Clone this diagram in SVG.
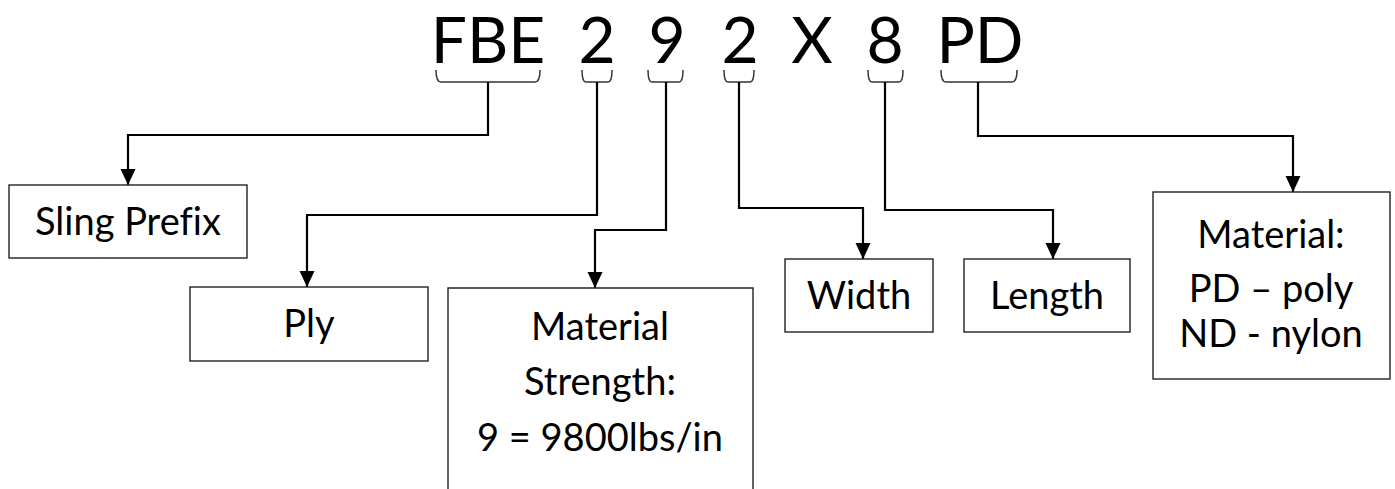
<svg xmlns="http://www.w3.org/2000/svg" width="1395" height="489" viewBox="0 0 1395 489">
<style>
text{font-family:Lato,"Open Sans","Noto Sans",sans-serif;fill:#000;text-anchor:middle;font-variant-ligatures:none;font-feature-settings:"liga" 0}
.title{font-size:64px}
.lbl{font-size:38px}
.box{fill:#fff;stroke:#222;stroke-width:1.4}
.brk{fill:none;stroke:#333;stroke-width:1.5}
.con{fill:none;stroke:#000;stroke-width:2.2}
</style>
<defs>
<marker id="arr" markerUnits="userSpaceOnUse" markerWidth="16" markerHeight="16" viewBox="0 0 16 16" refX="16" refY="8" orient="auto">
<path d="M0,0.5 L16,8 L0,15.5 Z" fill="#000"/>
</marker>
</defs>
<rect width="1395" height="489" fill="#fff"/>
<g id="title">
<text class="title" x="488" y="63">FBE</text>
<text class="title" x="597" y="63">2</text>
<text class="title" x="667" y="63">9</text>
<text class="title" x="740" y="63">2</text>
<text class="title" x="812" y="63">X</text>
<text class="title" x="885" y="63">8</text>
<text class="title" x="980" y="63">PD</text>
</g>
<g id="brackets">
<path class="brk" d="M436,70 Q436,82 441,82 H535 Q540,82 540,70"/>
<path class="brk" d="M582,70 Q582,82 586,82 H608 Q612,82 612,70"/>
<path class="brk" d="M648,70 Q648,82 652,82 H679 Q683,82 683,70"/>
<path class="brk" d="M724,70 Q724,82 728,82 H750 Q754,82 754,70"/>
<path class="brk" d="M868,70 Q868,82 872,82 H899 Q903,82 903,70"/>
<path class="brk" d="M941,70 Q941,82 946,82 H1012 Q1017,82 1017,70"/>
</g>
<g id="connectors">
<path class="con" d="M488,82 V135 H128 V185" marker-end="url(#arr)"/>
<path class="con" d="M597,82 V215 H307 V287" marker-end="url(#arr)"/>
<path class="con" d="M666,82 V230 H595 V288" marker-end="url(#arr)"/>
<path class="con" d="M739,82 V208 H863 V259" marker-end="url(#arr)"/>
<path class="con" d="M885,82 V210 H1053 V259" marker-end="url(#arr)"/>
<path class="con" d="M978,82 V136 H1293 V192" marker-end="url(#arr)"/>
</g>
<g id="sling-prefix">
<rect class="box" x="9" y="185" width="238" height="73"/>
<text class="lbl" x="128" y="235">Sling Prefix</text>
</g>
<g id="ply">
<rect class="box" x="190" y="287" width="238" height="74"/>
<text class="lbl" x="309" y="337">Ply</text>
</g>
<g id="material-strength">
<path class="box" d="M448,495 V288 H753 V495"/>
<text class="lbl" x="600" y="340">Material</text>
<text class="lbl" x="600" y="395">Strength:</text>
<text class="lbl" x="600" y="451">9 = 9800lbs/in</text>
</g>
<g id="width">
<rect class="box" x="785" y="259" width="148" height="73"/>
<text class="lbl" x="859" y="309">Width</text>
</g>
<g id="length">
<rect class="box" x="964" y="259" width="166" height="73"/>
<text class="lbl" x="1047" y="309">Length</text>
</g>
<g id="material">
<rect class="box" x="1153" y="192" width="237" height="187"/>
<text class="lbl" x="1271" y="248">Material:</text>
<text class="lbl" x="1271" y="302">PD – poly</text>
<text class="lbl" x="1271" y="347">ND - nylon</text>
</g>
</svg>
